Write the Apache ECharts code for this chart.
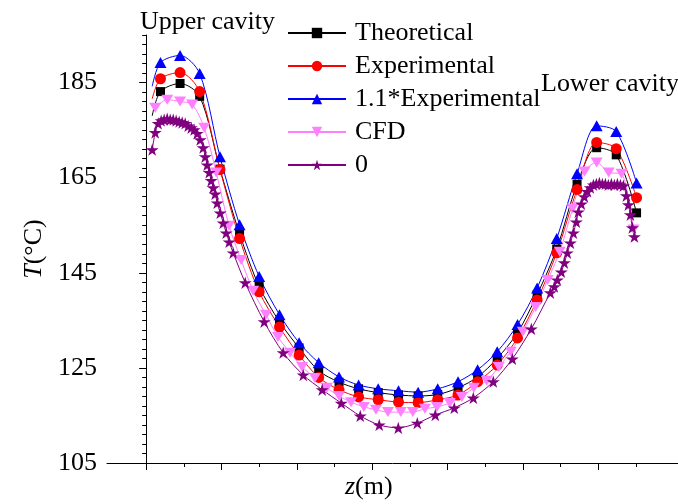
<!DOCTYPE html>
<html>
<head>
<meta charset="utf-8">
<script src="https://cdn.jsdelivr.net/npm/echarts@6/dist/echarts.min.js"></script>
<style>
  html, body { margin: 0; padding: 0; background: #fff; }
  #chart { width: 678px; height: 504px; }
</style>
</head>
<body>
<div id="chart"></div>
<script>
// axial positions of the measured / theoretical points (first point has no marker)
const zMain = [0.08, 0.19, 0.45, 0.71, 0.98, 1.24, 1.50, 1.77, 2.03, 2.29, 2.56, 2.82, 3.08,
    3.35, 3.61, 3.87, 4.14, 4.40, 4.66, 4.93, 5.19, 5.45, 5.72, 5.98, 6.24, 6.51];
const tTheoretical = [178.0, 183.1, 184.8, 182.1, 166.8, 153.2, 142.1, 134.7, 129.2, 124.4, 122.0,
    120.6, 119.8, 119.3, 119.1, 119.4, 120.8, 123.1, 127.0, 132.4, 140.4, 150.0, 163.6, 171.3, 169.8, 157.6];
const tExperimental = [181.6, 185.8, 187.1, 183.1, 166.7, 152.2, 141.0, 133.6, 127.7, 123.0, 120.4,
    118.9, 118.3, 117.8, 117.7, 118.3, 119.3, 122.1, 125.6, 131.3, 139.3, 149.2, 162.5, 172.4, 171.1, 160.8];
const tExperimental11 = [184.2, 189.2, 190.7, 186.9, 169.4, 155.1, 144.2, 136.2, 130.3, 126.1, 123.1,
    121.4, 120.6, 120.2, 119.9, 120.6, 122.1, 124.6, 128.4, 134.1, 141.8, 152.2, 165.8, 175.9, 174.7, 163.9];

const zCfd = [0.12, 0.28, 0.45, 0.61, 0.77, 0.93, 1.10, 1.26, 1.42, 1.59, 1.75, 1.91, 2.07, 2.24,
    2.40, 2.56, 2.72, 2.89, 3.05, 3.21, 3.38, 3.54, 3.70, 3.86, 4.03, 4.19, 4.35, 4.52, 4.68, 4.84,
    5.00, 5.17, 5.33, 5.49, 5.66, 5.82, 5.98, 6.14, 6.31, 6.47];
const tCfd = [179.7, 181.4, 181.0, 180.4, 175.5, 166.1, 154.9, 147.7, 141.2, 136.2, 131.5, 128.2,
    125.2, 122.9, 120.8, 119.1, 117.8, 116.8, 116.2, 115.7, 115.7, 115.7, 116.4, 116.8, 117.6, 118.9,
    120.8, 122.3, 125.2, 128.4, 132.6, 137.8, 143.5, 149.4, 158.5, 166.3, 168.2, 166.1, 165.8, 154.1];

const zZero = [0.080, 0.120, 0.159, 0.199, 0.239, 0.279, 0.319, 0.359, 0.398, 0.438, 0.478, 0.518,
    0.558, 0.598, 0.637, 0.677, 0.717, 0.757, 0.784, 0.810, 0.837, 0.863, 0.890, 0.916, 0.943, 0.983,
    1.023, 1.062, 1.102, 1.155,
    1.315, 1.567, 1.819, 2.085, 2.337, 2.590, 2.842, 3.094, 3.347, 3.599, 3.838, 4.090, 4.343, 4.608,
    4.861, 5.113,
    5.365, 5.418, 5.458, 5.511, 5.551, 5.591, 5.631, 5.671, 5.710, 5.737, 5.777, 5.817, 5.857, 5.896,
    5.936, 5.976, 6.016, 6.056, 6.096, 6.135, 6.175, 6.215, 6.255, 6.295, 6.335, 6.375, 6.401, 6.428,
    6.454, 6.481];
const tZero = [170.9, 174.5, 176.4, 177.0, 177.2, 177.4, 177.2, 177.2, 177.0, 176.8, 176.6, 176.4,
    175.9, 175.5, 175.1, 174.3, 173.0, 171.3, 169.4, 167.7, 166.1, 164.4, 162.9, 161.6, 159.7, 157.6,
    155.5, 153.4, 151.5, 149.2,
    142.9, 134.7, 128.2, 123.5, 120.4, 117.6, 114.9, 113.0, 112.4, 113.4, 115.1, 116.6, 118.7, 122.1,
    126.9, 133.2,
    140.8, 142.1, 143.5, 145.2, 147.1, 149.2, 151.3, 153.4, 155.7, 157.8, 159.5, 161.0, 162.1, 162.9,
    163.5, 163.7, 163.9, 163.7, 163.7, 163.5, 163.7, 163.5, 163.7, 163.5, 163.3, 161.2, 159.3, 157.2,
    154.5, 152.6];

const yTicks = [105, 125, 145, 165, 185];
const xTicks = [0, 1, 2, 3, 4, 5, 6];
const xMinorTicks = [0.5, 1.5, 2.5, 3.5, 4.5, 5.5, 6.5];
const yMinorTicks = [];
for (let v = 107; v <= 195; v += 2) {
    if (yTicks.indexOf(v) < 0) yMinorTicks.push(v);
}

const FONT = 'Liberation Serif';
const starPath = 'path://M50,0 L61,35 L98,35 L68,57 L79,91 L50,70 L21,91 L32,57 L2,35 L39,35 Z';

function pairs(zs, ts, skipFirst) {
    return zs.map((z, i) => (skipFirst && i === 0) ? { value: [z, ts[i]], symbol: 'none' } : [z, ts[i]]);
}

function lineSeries(name, color, symbol, size, data, extra) {
    return Object.assign({
        name: name,
        type: 'line',
        smooth: 0.3,
        symbol: symbol,
        symbolSize: size,
        showAllSymbol: true,
        color: color,
        itemStyle: { color: color },
        lineStyle: { color: color, width: 1 },
        data: data
    }, extra || {});
}

const chart = echarts.init(document.getElementById('chart'));

chart.setOption({
    animation: false,
    backgroundColor: '#fff',
    grid: { left: 107, right: 0, top: 35, bottom: 41 },
    legend: {
        orient: 'vertical',
        left: 287,
        top: 20,
        itemWidth: 58,
        itemHeight: 13,
        itemGap: 7,
        padding: 0,
        textStyle: { fontFamily: FONT, fontSize: 26, color: '#000', padding: [0, 0, 0, 4] },
        data: ['Theoretical', 'Experimental', '1.1*Experimental', 'CFD', '0']
    },
    xAxis: [
        {
            type: 'value',
            min: -0.52,
            max: 7.06,
            axisLine: { show: true, lineStyle: { color: '#000', width: 1 } },
            axisTick: { show: true, customValues: xTicks, length: 7, lineStyle: { color: '#000' } },
            axisLabel: { show: false },
            splitLine: { show: false }
        },
        {
            type: 'value',
            position: 'bottom',
            min: -0.52,
            max: 7.06,
            axisLine: { show: false },
            axisTick: { show: true, customValues: xMinorTicks, length: 4, lineStyle: { color: '#000' } },
            axisLabel: { show: false },
            splitLine: { show: false }
        }
    ],
    yAxis: [
        {
            type: 'value',
            min: 105,
            max: 195,
            name: '{i|T}(°C)',
            nameLocation: 'middle',
            nameGap: 58,
            nameTextStyle: {
                fontFamily: FONT, fontSize: 26, color: '#000',
                rich: { i: { fontFamily: FONT, fontSize: 26, fontStyle: 'italic', color: '#000' } }
            },
            axisLine: { show: true, lineStyle: { color: '#000', width: 1 } },
            axisTick: { show: true, customValues: yTicks, length: 7, lineStyle: { color: '#000' } },
            axisLabel: { customValues: yTicks, fontFamily: FONT, fontSize: 26, color: '#000', margin: 10 },
            splitLine: { show: false }
        },
        {
            type: 'value',
            position: 'left',
            min: 105,
            max: 195,
            axisLine: { show: false },
            axisTick: { show: true, customValues: yMinorTicks, length: 4, lineStyle: { color: '#000' } },
            axisLabel: { show: false },
            splitLine: { show: false }
        }
    ],
    graphic: [
        { type: 'text', left: 140, top: 9, style: { text: 'Upper cavity', font: '26px "Liberation Serif"', fill: '#000' } },
        { type: 'text', left: 541, top: 71, style: { text: 'Lower cavity', font: '26px "Liberation Serif"', fill: '#000' } },
        {
            type: 'text', left: 345, top: 474,
            style: {
                text: '{i|z}(m)', font: '26px "Liberation Serif"', fill: '#000',
                rich: { i: { fontFamily: FONT, fontSize: 26, fontStyle: 'italic', fill: '#000' } }
            }
        }
    ],
    series: [
        lineSeries('Theoretical', '#000000', 'rect', 9, pairs(zMain, tTheoretical, true)),
        lineSeries('Experimental', '#ff0000', 'circle', 11, pairs(zMain, tExperimental, true)),
        lineSeries('1.1*Experimental', '#0000ff', 'triangle', [12, 11], pairs(zMain, tExperimental11, true)),
        lineSeries('CFD', '#ff80ff', 'triangle', [12, 10], pairs(zCfd, tCfd, false), { symbolRotate: 180 }),
        lineSeries('0', '#800080', starPath, 13, pairs(zZero, tZero, false), { symbolKeepAspect: true })
    ]
});
</script>
</body>
</html>
